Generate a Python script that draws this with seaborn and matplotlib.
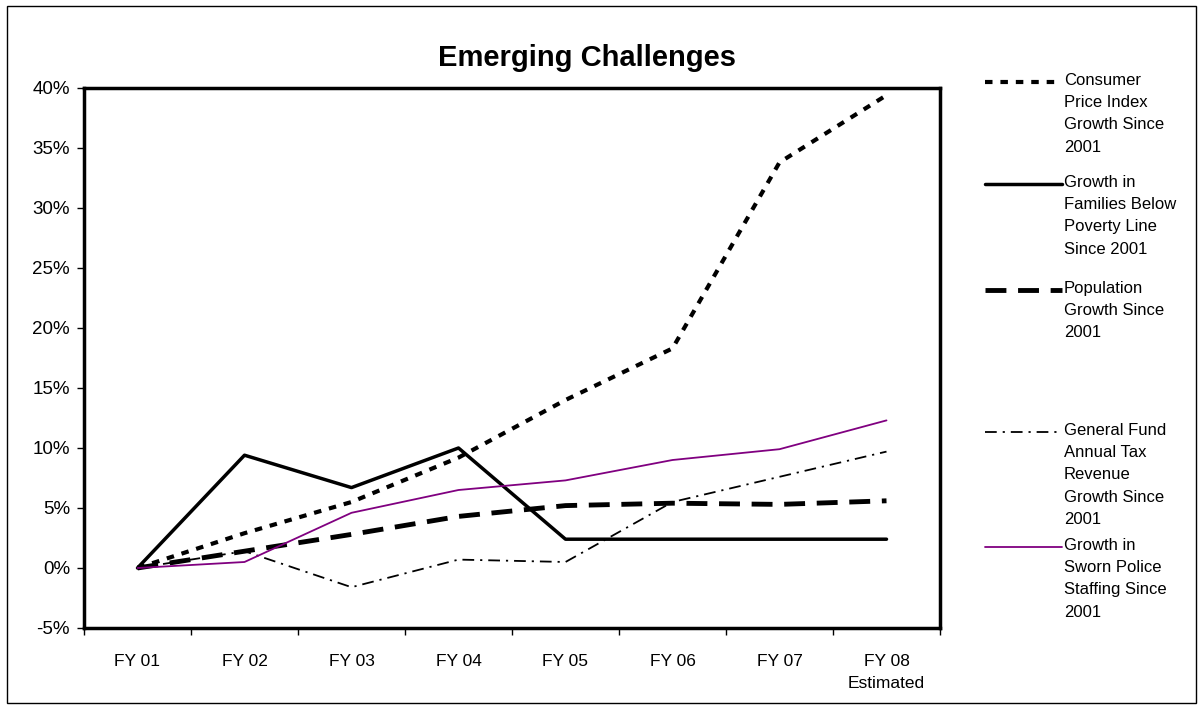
import numpy as np
import pandas as pd
import matplotlib
matplotlib.use("Agg")
import matplotlib.pyplot as plt
from matplotlib.lines import Line2D
from matplotlib.patches import Rectangle
import seaborn as sns

years = ["FY 01", "FY 02", "FY 03", "FY 04", "FY 05", "FY 06", "FY 07", "FY 08\nEstimated"]
cpi = [0.0, 2.9, 5.5, 9.2, 14.0, 18.3, 33.8, 39.4]
poverty = [0.0, 9.4, 6.7, 10.0, 2.4, 2.4, 2.4, 2.4]
population = [0.0, 1.4, 2.8, 4.3, 5.2, 5.4, 5.3, 5.6]
general_fund = [0.0, 1.4, -1.6, 0.7, 0.5, 5.5, 7.6, 9.7]
police = [0.0, 0.5, 4.6, 6.5, 7.3, 9.0, 9.9, 12.3]

labels = [
    "Consumer\nPrice Index\nGrowth Since\n2001",
    "Growth in\nFamilies Below\nPoverty Line\nSince 2001",
    "Population\nGrowth Since\n2001",
    "General Fund\nAnnual Tax\nRevenue\nGrowth Since\n2001",
    "Growth in\nSworn Police\nStaffing Since\n2001",
]

sns.set_style("white")
plt.rcParams['font.family'] = ['Liberation Sans', 'DejaVu Sans']
plt.rcParams['text.color'] = 'black'
plt.rcParams['xtick.color'] = 'black'
plt.rcParams['ytick.color'] = 'black'

styles = [
    dict(color="black", lw=3.0, ls=(0, (1.8, 1.9))),
    dict(color="black", lw=2.5, ls="-"),
    dict(color="black", lw=3.5, ls=(0, (4.3, 2.4))),
    dict(color="black", lw=1.3, ls=(0, (6.5, 3.3, 1.2, 3.3))),
    dict(color="#800080", lw=1.3, ls="-"),
]
series = [cpi, poverty, population, general_fund, police]

fig = plt.figure(figsize=(12.03, 7.09), dpi=100)
ax = fig.add_axes([84 / 1203, 1 - 628 / 709, (940 - 84) / 1203, (628 - 88) / 709])

x = np.arange(len(years))
for vals, st in zip(series, styles):
    sns.lineplot(x=x, y=vals, ax=ax, color=st["color"], linewidth=st["lw"],
                 linestyle=st["ls"], sort=False)

ax.set_xlim(-0.5, len(years) - 0.5)
ax.set_ylim(-5, 40)
ax.set_yticks(np.arange(-5, 41, 5))
ax.set_yticklabels([f"{v}%" for v in range(-5, 41, 5)], fontsize=13.5)
ax.set_xticks(np.arange(-0.5, len(years), 1))
ax.set_xticklabels([])
ax.set_xticks(x, minor=True)
ax.set_xticklabels(years, minor=True, fontsize=12.5, linespacing=1.55)
ax.tick_params(axis="x", which="major", direction="out", length=5, width=1, color="black", bottom=True)
ax.tick_params(axis="x", which="minor", length=0, pad=19)
ax.tick_params(axis="y", direction="out", length=5, width=1, color="black", left=True, pad=5)
for sp in ax.spines.values():
    sp.set_color("black")
    sp.set_linewidth(2.5)

fig.text(587 / 1203, 1 - 58 / 709, "Emerging Challenges", ha="center", va="center",
         fontsize=21, fontweight="bold")

# legend, placed like the original
leg_y = [82, 184, 290, 432, 547]
for lab, st, yy in zip(labels, styles, leg_y):
    yf = 1 - yy / 709
    fig.add_artist(Line2D([985 / 1203, 1062 / 1203], [yf, yf], transform=fig.transFigure,
                          color=st["color"], lw=st["lw"], linestyle=st["ls"]))
    fig.text(1064 / 1203, 1 - (yy - 9) / 709, lab, ha="left", va="top",
             fontsize=12, linespacing=1.6)

fig.add_artist(Rectangle((7 / 1203, 6 / 709), 1189 / 1203, 697 / 709, transform=fig.transFigure,
                         fill=False, edgecolor="black", lw=1))

fig.savefig("out.png", dpi=100)
